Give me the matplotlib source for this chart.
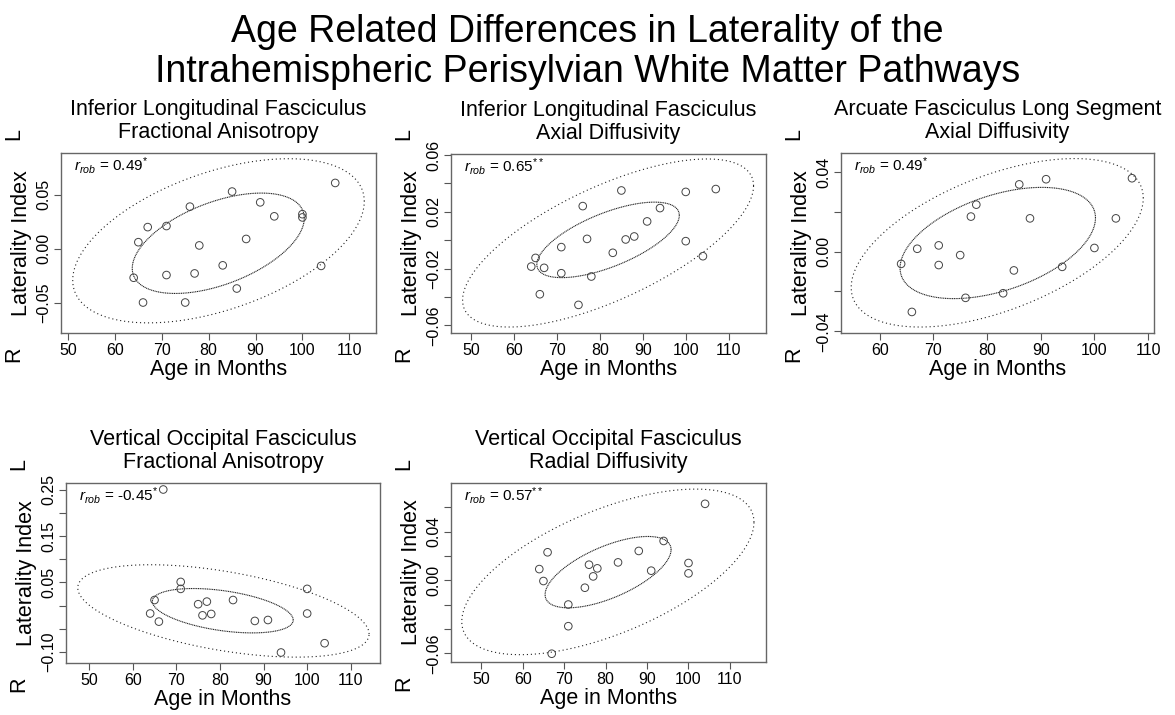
import numpy as np
import matplotlib
matplotlib.use('Agg')
import matplotlib.pyplot as plt

plt.rcParams['font.family'] = ['Liberation Sans', 'DejaVu Sans']
plt.rcParams['mathtext.fontset'] = 'custom'
plt.rcParams['mathtext.rm'] = 'Liberation Sans'
plt.rcParams['mathtext.it'] = 'Liberation Sans:italic'

# --- data ------------------------------------------------------------------
# ILF fractional anisotropy
age_ilf_fa = [107, 85, 91, 76, 94, 100, 100, 67, 71, 65, 78, 88, 83, 104, 64, 71, 77, 86, 66, 75]
li_ilf_fa = [0.061, 0.053, 0.043, 0.039, 0.030, 0.032, 0.029, 0.020, 0.021, 0.006, 0.003, 0.009,
             -0.0155, -0.016, -0.027, -0.0245, -0.023, -0.037, -0.050, -0.050]

# ILF axial diffusivity
age_ilf_ad = [85, 100, 107, 76, 94, 91, 77, 86, 88, 100, 71, 83, 104, 65, 64, 67, 71, 78, 66, 75]
li_ilf_ad = [0.035, 0.034, 0.036, 0.024, 0.0226, 0.0132, 0.0009, 0.0005, 0.0026, -0.0007, -0.0049,
             -0.0089, -0.0113, -0.0125, -0.0186, -0.0195, -0.0233, -0.0256, -0.0381, -0.0456]

# AF long segment axial diffusivity
age_af_ad = [107, 91, 86, 78, 77, 88, 104, 67, 71, 75, 100, 64, 71, 85, 94, 83, 76, 66]
li_af_ad = [0.037, 0.0365, 0.0339, 0.0237, 0.0177, 0.0168, 0.0168, 0.0015, 0.0032, -0.0017, 0.0019,
            -0.0061, -0.0067, -0.0094, -0.0076, -0.0209, -0.0232, -0.0303]

# VOF fractional anisotropy
age_vof_fa = [67, 71, 71, 65, 75, 77, 83, 64, 76, 78, 66, 88, 91, 100, 100, 104, 94]
li_vof_fa = [0.250, 0.051, 0.036, 0.012, 0.003, 0.0086, 0.012, -0.017, -0.021, -0.018, -0.0345,
             -0.033, -0.031, 0.036, -0.017, -0.081, -0.101]

# VOF radial diffusivity
age_vof_rd = [104, 94, 66, 88, 83, 100, 100, 76, 78, 77, 91, 64, 65, 75, 71, 71, 67]
li_vof_rd = [0.0629, 0.0324, 0.0231, 0.0242, 0.0148, 0.0143, 0.0058, 0.0129, 0.0099, 0.0033, 0.008,
             0.0093, -0.0005, -0.006, -0.0198, -0.0376, -0.0602]

# ellipses: centre x, centre y, half width (x), half height (y), correlation
ell_in = [(82.05, 0.005, 18.35, 0.0466, 0.50),
          (81.9, 0.0002, 16.6, 0.0266, 0.65),
          (82.0, 0.0044, 18.2, 0.028, 0.45),
          (80.65, -0.011, 16.15, 0.0478, -0.42),
          (80.6, 0.0068, 15.2, 0.0293, 0.63)]
ell_out = [(82.1, 0.0073, 31.1, 0.0762, 0.48),
           (81.9, -0.002, 33.9, 0.0592, 0.68),
           (81.9, 0.0045, 27.2, 0.0424, 0.53),
           (80.8, -0.0115, 33.4, 0.0995, -0.50),
           (80.55, 0.007, 35.25, 0.068, 0.60)]

titles = ["Inferior Longitudinal Fasciculus\nFractional Anisotropy",
          "Inferior Longitudinal Fasciculus\nAxial Diffusivity",
          "Arcuate Fasciculus Long Segment\nAxial Diffusivity",
          "Vertical Occipital Fasciculus\nFractional Anisotropy",
          "Vertical Occipital Fasciculus\nRadial Diffusivity"]
r_labels = ["0.49$^{*}$", "0.65$^{**}$", "0.49$^{*}$", "-0.45$^{*}$", "0.57$^{**}$"]

xticks = [[50, 60, 70, 80, 90, 100, 110]] * 2 + [[60, 70, 80, 90, 100, 110]] + [[50, 60, 70, 80, 90, 100, 110]] * 2
yticks = [[-0.05, 0.0, 0.05],
          [-0.06, -0.04, -0.02, 0.0, 0.02, 0.04, 0.06],
          [-0.04, -0.02, 0.0, 0.02, 0.04],
          [-0.10, -0.05, 0.0, 0.05, 0.10, 0.15, 0.20, 0.25],
          [-0.06, -0.04, -0.02, 0.0, 0.02, 0.04, 0.06]]
ylabeled = [[-0.05, 0.0, 0.05],
            [-0.06, -0.02, 0.02, 0.06],
            [-0.04, 0.0, 0.04],
            [-0.10, 0.05, 0.15, 0.25],
            [-0.06, 0.0, 0.04]]
xlims = [(48.5, 115.7), (45.3, 118.7), (52.8, 111.1), (44.7, 116.7), (42.7, 118.7)]
ylims = [(-0.0783, 0.0888), (-0.0654, 0.0607), (-0.0409, 0.0497), (-0.1236, 0.264), (-0.067, 0.080)]

ages = [age_ilf_fa, age_ilf_ad, age_af_ad, age_vof_fa, age_vof_rd]
lis = [li_ilf_fa, li_ilf_ad, li_af_ad, li_vof_fa, li_vof_rd]

# --- layout (pixel boxes: left, right, top, bottom) --------------------------
W, H = 1175, 715
boxes = [(61, 376, 153, 333), (451, 766, 154, 333), (841, 1154, 153, 333),
         (66, 380, 483, 663), (451, 766, 483, 662)]

fig = plt.figure(figsize=(W / 100, H / 100), dpi=100)
fig.text(0.5, 1 - 52 / H, "Age Related Differences in Laterality of the\n"
         "Intrahemispheric Perisylvian White Matter Pathways",
         ha='center', va='center', fontsize=27, linespacing=1.15)

def fmt(v):
    s = "%.2f" % v
    return s.replace('-', '\u2212')

t = np.linspace(0, 2 * np.pi, 500)
for i in range(5):
    l, r, tp, b = boxes[i]
    ax = fig.add_axes([l / W, 1 - b / H, (r - l) / W, (b - tp) / H])
    ax.scatter(ages[i], lis[i], s=30, facecolors='none', edgecolors='#444444', linewidths=0.7, zorder=3)
    for e, ls in ((ell_in[i], (0, (1, 0.6))), (ell_out[i], (0, (1, 2.6)))):
        cx, cy, hx, hy, rho = e
        ax.plot(cx + hx * np.cos(t), cy + hy * np.cos(t - np.arccos(rho)),
                color='#222222', lw=0.8, ls=ls)
    ax.set_xlim(*xlims[i])
    ax.set_ylim(*ylims[i])
    ax.set_xticks(xticks[i])
    ax.set_xticklabels([str(v) for v in xticks[i]], fontsize=11.5)
    ax.set_yticks(yticks[i])
    ax.set_yticklabels([fmt(v) if any(abs(v - w) < 1e-9 for w in ylabeled[i]) else '' for v in yticks[i]],
                       fontsize=11.5, rotation=90, va='center')
    ax.tick_params(length=5, width=0.8, color='#555555', pad=2)
    for sp in ax.spines.values():
        sp.set_color('#666666')
        sp.set_linewidth(1.0)
    ax.set_title(titles[i], fontsize=15.5, linespacing=1.1, pad=11)
    ax.set_xlabel("Age in Months", fontsize=15.5, labelpad=1)
    ax.set_ylabel("Laterality Index", fontsize=15.5, labelpad=3)
    ax.text(0.04, 0.93, r"$r_{rob}$ = " + r_labels[i], transform=ax.transAxes,
            fontsize=11, ha='left', va='center')
    # hemisphere markers
    mid = (tp + b) / 2
    fig.text((l - 47) / W, 1 - (mid - 109) / H, "L", fontsize=15.5, rotation=90, ha='center', va='center')
    fig.text((l - 47) / W, 1 - (mid + 111) / H, "R", fontsize=15.5, rotation=90, ha='center', va='center')

fig.savefig("out.png", dpi=100)
